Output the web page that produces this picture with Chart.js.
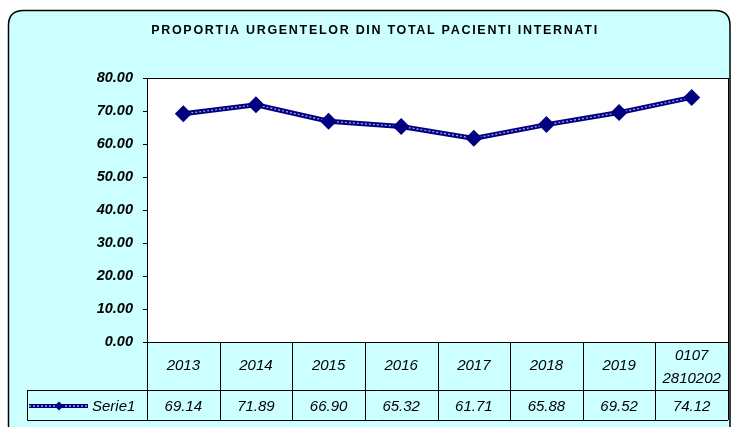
<!DOCTYPE html>
<html><head><meta charset="utf-8">
<script src="https://cdn.jsdelivr.net/npm/chart.js@4/dist/chart.umd.min.js"></script>
<style>html,body{margin:0;padding:0;background:#fff;}canvas{display:block;}</style>
</head><body>
<canvas id="c" width="731" height="427"></canvas>
<script>
const titleText = 'PROPORTIA URGENTELOR DIN TOTAL PACIENTI INTERNATI';
const categories = ['2013', '2014', '2015', '2016', '2017', '2018', '2019', ['0107', '2810202']];
const seriesName = 'Serie1';
const values = [69.14, 71.89, 66.90, 65.32, 61.71, 65.88, 69.52, 74.12];
const yTicks = [0, 10, 20, 30, 40, 50, 60, 70, 80];

const FONT = '"Liberation Sans", Arial, sans-serif';
const NAVY = '#000080';

const framePlugin = {
  id: 'frame',
  beforeDraw(chart) {
    const ctx = chart.ctx, a = chart.chartArea;
    ctx.save();
    ctx.fillStyle = '#fff';
    ctx.fillRect(0, 0, chart.width, chart.height);
    const x0 = 8.5, y0 = 10.5, x1 = 730, y1 = 440, r = 15;
    ctx.beginPath();
    ctx.moveTo(x0 + r, y0);
    ctx.lineTo(x1 - r, y0);
    ctx.quadraticCurveTo(x1, y0, x1, y0 + r);
    ctx.lineTo(x1, y1 - r);
    ctx.quadraticCurveTo(x1, y1, x1 - r, y1);
    ctx.lineTo(x0 + r, y1);
    ctx.quadraticCurveTo(x0, y1, x0, y1 - r);
    ctx.lineTo(x0, y0 + r);
    ctx.quadraticCurveTo(x0, y0, x0 + r, y0);
    ctx.closePath();
    ctx.fillStyle = '#ccffff';
    ctx.fill();
    ctx.lineWidth = 1.5;
    ctx.strokeStyle = '#000';
    ctx.stroke();
    ctx.fillStyle = '#fff';
    ctx.fillRect(a.left, a.top, a.right - a.left, a.bottom - a.top);
    ctx.fillStyle = '#000';
    ctx.font = 'bold 12.5px ' + FONT;
    ctx.textAlign = 'center';
    ctx.textBaseline = 'middle';
    if ('letterSpacing' in ctx) ctx.letterSpacing = '1.7px';
    ctx.fillText(titleText, 375, 31);
    ctx.restore();
  },
  afterDraw(chart) {
    const ctx = chart.ctx, a = chart.chartArea;
    const xs = chart.scales.x;
    const n = categories.length;
    const colW = (a.right - a.left) / n;
    const hdrBottom = 390, rowBottom = 420, legendLeft = 27.5;
    ctx.save();
    ctx.strokeStyle = '#000';
    ctx.lineWidth = 1;
    ctx.strokeRect(Math.round(a.left) + 0.5, Math.round(a.top) + 0.5, Math.round(a.right - a.left), Math.round(a.bottom - a.top));
    ctx.beginPath();
    for (let i = 0; i <= n; i++) {
      const x = Math.round(a.left + i * colW) + 0.5;
      ctx.moveTo(x, a.bottom);
      ctx.lineTo(x, rowBottom);
    }
    ctx.moveTo(legendLeft, hdrBottom + 0.5);
    ctx.lineTo(a.right, hdrBottom + 0.5);
    ctx.moveTo(legendLeft, rowBottom + 0.5);
    ctx.lineTo(a.right, rowBottom + 0.5);
    ctx.moveTo(legendLeft, hdrBottom);
    ctx.lineTo(legendLeft, rowBottom + 0.5);
    ctx.stroke();
    ctx.fillStyle = '#000';
    ctx.font = 'italic 15px ' + FONT;
    ctx.textAlign = 'center';
    ctx.textBaseline = 'middle';
    for (let i = 0; i < n; i++) {
      const cx = xs.getPixelForValue(i);
      const lab = categories[i];
      if (Array.isArray(lab)) {
        ctx.fillText(lab[0], cx, 356);
        ctx.fillText(lab[1], cx, 379);
      } else {
        ctx.fillText(lab, cx, 366);
      }
      ctx.fillText(values[i].toFixed(2), cx, 407);
    }
    const ly = 406;
    ctx.strokeStyle = NAVY;
    ctx.lineWidth = 4;
    ctx.beginPath(); ctx.moveTo(29, ly); ctx.lineTo(88, ly); ctx.stroke();
    ctx.strokeStyle = '#9a9ae0';
    ctx.lineWidth = 1.3;
    ctx.setLineDash([2, 2]);
    ctx.beginPath(); ctx.moveTo(29, ly); ctx.lineTo(88, ly); ctx.stroke();
    ctx.setLineDash([]);
    ctx.fillStyle = NAVY;
    ctx.beginPath();
    ctx.moveTo(59, ly - 4.5); ctx.lineTo(63.5, ly); ctx.lineTo(59, ly + 4.5); ctx.lineTo(54.5, ly); ctx.closePath();
    ctx.fill();
    ctx.fillStyle = '#000';
    ctx.textAlign = 'left';
    ctx.fillText(seriesName, 92, ly + 1);
    ctx.restore();
  }
};

new Chart(document.getElementById('c'), {
  type: 'line',
  data: {
    labels: categories,
    datasets: [
      { label: seriesName, data: values, borderColor: NAVY, borderWidth: 5, pointRadius: 0, tension: 0, order: 3 },
      { label: seriesName + ' inner', data: values, borderColor: '#9a9ae0', borderWidth: 1.4, borderDash: [2, 2], pointRadius: 0, tension: 0, order: 2 },
      { label: seriesName + ' points', data: values, showLine: false, pointStyle: 'rectRot', pointRadius: 8.5, pointBackgroundColor: NAVY, pointBorderColor: NAVY, pointBorderWidth: 0, order: 1 }
    ]
  },
  options: {
    responsive: false,
    animation: false,
    devicePixelRatio: 1,
    layout: { autoPadding: false, padding: { left: 0, top: 78, right: 3, bottom: 85 } },
    plugins: { legend: { display: false }, title: { display: false }, tooltip: { enabled: false } },
    scales: {
      x: { type: 'category', offset: true, display: false },
      y: {
        min: 0, max: 80,
        afterBuildTicks(s) { s.ticks = yTicks.map(v => ({ value: v })); },
        afterFit(s) { s.width = 147; },
        border: { display: true, color: '#000', width: 1 },
        grid: { drawOnChartArea: false, drawTicks: true, tickLength: 4, color: '#000' },
        ticks: {
          color: '#000', padding: 10,
          font: { family: FONT, size: 14.5, style: 'italic', weight: 'bold' },
          callback: v => Number(v).toFixed(2)
        }
      }
    }
  },
  plugins: [framePlugin]
});
</script>
</body></html>
